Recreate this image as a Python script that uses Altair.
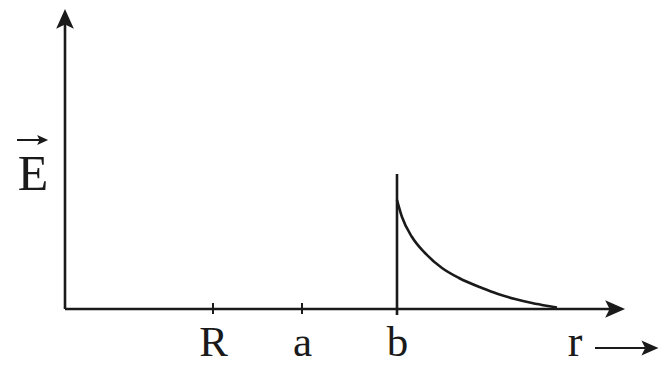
import altair as alt
import pandas as pd

# ---- data (r in units of 100 px, E in units of 100 px) ----
tick_r = [1.48, 2.37, 3.32]
tick_labels = ["R", "a", "b"]

curve_r = [3.32, 3.37, 3.47, 3.60, 3.77, 3.94, 4.17, 4.33, 4.50, 4.67, 4.83, 4.92]
curve_E = [1.09, 0.92, 0.72, 0.56, 0.41, 0.31, 0.21, 0.15, 0.10, 0.06, 0.03, 0.015]

b_jump = [-0.06, 1.35]          # vertical segment at r = b

x_axis_end = 5.50
y_axis_end = 2.88

ink = "#1a1a1a"
serif = "Liberation Serif"

xs = alt.Scale(domain=[0, 5.95], nice=False, zero=False)
ys = alt.Scale(domain=[0, 3.01], nice=False, zero=False)

label_expr = " : ".join(
    f"datum.value == {v} ? '{t}'" for v, t in zip(tick_r, tick_labels)
) + " : ''"

x_axis = alt.Axis(
    values=tick_r, labelExpr=label_expr, domain=False, ticks=False,
    grid=False, labelFont=serif, labelFontSize=43, labelColor=ink,
    labelBaseline="alphabetic", labelPadding=46, title=None,
    labelFlush=False, labelOverlap=False,
)


def X(field):
    return alt.X(field, scale=xs, axis=x_axis)


def Y(field):
    return alt.Y(field, scale=ys, axis=None)


# axes lines
axes_df = pd.DataFrame({
    "x": [0.0, 0.0], "x2": [x_axis_end, 0.0],
    "y": [0.0, 0.0], "y2": [0.0, y_axis_end],
})
axes = alt.Chart(axes_df).mark_rule(color=ink, strokeWidth=2.6).encode(
    x=X("x:Q"), x2="x2:Q", y=Y("y:Q"), y2="y2:Q",
)

ticks_df = pd.DataFrame({"r": tick_r, "lo": [-0.05] * 3, "hi": [0.06] * 3})
ticks = alt.Chart(ticks_df).mark_rule(color=ink, strokeWidth=2).encode(
    x=X("r:Q"), y=Y("lo:Q"), y2="hi:Q",
)

jump_df = pd.DataFrame({"r": [tick_r[2]], "lo": [b_jump[0]], "hi": [b_jump[1]]})
jump = alt.Chart(jump_df).mark_rule(color=ink, strokeWidth=2.6).encode(
    x=X("r:Q"), y=Y("lo:Q"), y2="hi:Q",
)

curve_df = pd.DataFrame({"r": curve_r, "E": curve_E})
curve = alt.Chart(curve_df).mark_line(
    color=ink, strokeWidth=2.6, interpolate="monotone"
).encode(x=X("r:Q"), y=Y("E:Q"))

up_path = "M0,-1L0.8,0.8L0,0.4L-0.8,0.8Z"
right_path = "M1,0L-0.8,0.8L-0.4,0L-0.8,-0.8Z"

head_up = alt.Chart(pd.DataFrame({"r": [0.0], "E": [2.89]})).mark_point(
    shape=up_path, filled=True, color=ink, opacity=1, size=490, strokeWidth=0
).encode(x=X("r:Q"), y=Y("E:Q"))

head_right = alt.Chart(pd.DataFrame({"r": [5.49], "E": [0.0]})).mark_point(
    shape=right_path, filled=True, color=ink, opacity=1, size=490, strokeWidth=0
).encode(x=X("r:Q"), y=Y("E:Q"))

# "r ->" annotation
r_arrow_line = alt.Chart(pd.DataFrame({"a": [5.30], "b": [5.80], "E": [-0.39]})).mark_rule(
    color=ink, strokeWidth=2.2
).encode(x=X("a:Q"), x2="b:Q", y=Y("E:Q"))
r_arrow_head = alt.Chart(pd.DataFrame({"r": [5.84], "E": [-0.39]})).mark_point(
    shape=right_path, filled=True, color=ink, opacity=1, size=360, strokeWidth=0
).encode(x=X("r:Q"), y=Y("E:Q"))
r_text = alt.Chart(pd.DataFrame({"r": [5.10], "E": [-0.47], "t": ["r"]})).mark_text(
    font=serif, fontSize=44, color=ink, baseline="alphabetic", align="center"
).encode(x=X("r:Q"), y=Y("E:Q"), text="t:N")

# E with vector arrow
e_text = alt.Chart(pd.DataFrame({"r": [-0.32], "E": [1.19], "t": ["E"]})).mark_text(
    font=serif, fontSize=50, color=ink, baseline="alphabetic", align="center"
).encode(x=X("r:Q"), y=Y("E:Q"), text="t:N")
e_arrow_line = alt.Chart(pd.DataFrame({"a": [-0.48], "b": [-0.22], "E": [1.69]})).mark_rule(
    color=ink, strokeWidth=2
).encode(x=X("a:Q"), x2="b:Q", y=Y("E:Q"))
e_arrow_head = alt.Chart(pd.DataFrame({"r": [-0.23], "E": [1.69]})).mark_point(
    shape=right_path, filled=True, color=ink, opacity=1, size=150, strokeWidth=0
).encode(x=X("r:Q"), y=Y("E:Q"))

chart = alt.layer(
    axes, ticks, jump, curve, head_up, head_right,
    r_arrow_line, r_arrow_head, r_text, e_text, e_arrow_line, e_arrow_head,
).properties(
    width=595, height=301,
    autosize=alt.AutoSizeParams(type="none"),
    padding={"left": 57, "right": 0, "top": 0, "bottom": 56},
    background="white",
).configure_view(stroke=None).configure_axis(grid=False)

chart.save("out.html", embed_options={"renderer": "svg", "actions": False})
